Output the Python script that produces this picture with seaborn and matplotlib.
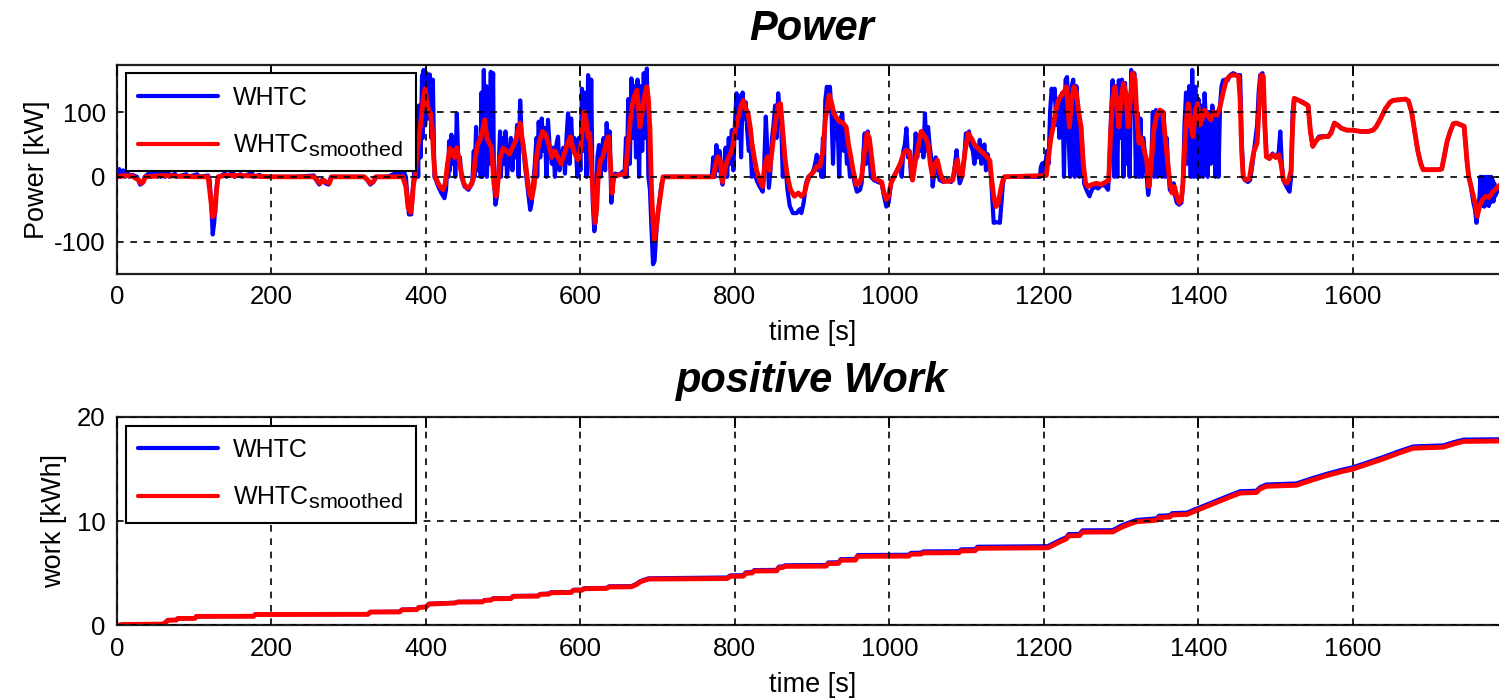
import matplotlib
matplotlib.use("Agg")
import matplotlib.pyplot as plt
import matplotlib._mathtext as _mathtext
import pandas as pd
import seaborn as sns

# ---------------------------------------------------------------------------
# WHTC engine power, raw 1 Hz trace  (time [s], power [kW])
# ---------------------------------------------------------------------------
whtc_power = [
    (0, 0), (3, 12), (5, 0), (8, 10), (10, 0), (14, 8), (16, 0), (20, 3), (26, 0),
    (30, -12), (33, -10), (36, 0), (42, 6), (44, 0), (50, 10), (52, 0), (55, 12),
    (57, 0), (60, 9), (62, 0), (66, 10), (68, 0), (75, 5), (77, 0), (90, 4), (92, 0),
    (104, 4), (106, 0), (118, 2), (120, -5), (122, -40), (124, -89), (126, -70),
    (128, -30), (130, -5), (132, 0), (140, 5), (142, 0), (150, 8), (152, 0), (160, 4),
    (162, 0), (175, 6), (177, 0), (185, 3), (187, 0), (230, 0), (255, 2), (258, -5),
    (262, -12), (266, -4), (270, -10), (274, -12), (277, 0), (320, 0), (324, -5),
    (328, -12), (332, -8), (336, 0), (350, 0), (360, 5), (362, 0), (366, 8), (368, 0),
    (372, 6), (374, 0), (376, -30), (378, -58), (381, -58), (383, -20), (385, 10),
    (387, 0), (389, 60), (390, 0), (391, 110), (393, 30), (395, 157), (396, 60),
    (397, 165), (399, 80), (401, 160), (403, 90), (405, 158), (407, 60), (409, 150),
    (411, 0), (413, -5), (416, -15), (420, -25), (424, -33), (426, -20), (428, 20),
    (429, 0), (430, 55), (431, 10), (433, 65), (435, 20), (437, 60), (438, 0),
    (440, 98), (442, 20), (444, 30), (446, 0), (450, -15), (455, -20), (460, -10),
    (462, 40), (463, 0), (465, 77), (467, 10), (469, 60), (471, 0), (472, 130),
    (473, 0), (475, 165), (476, 40), (478, 140), (479, 0), (481, 90), (482, 20),
    (484, 162), (485, 30), (487, 160), (488, 0), (490, -43), (492, -30), (494, 10),
    (496, 70), (497, 0), (499, 60), (501, 20), (503, 70), (505, 0), (508, 40),
    (510, 60), (512, 10), (514, 55), (516, 30), (518, 80), (520, 0), (522, 118),
    (524, 60), (526, 50), (528, 20), (530, 0), (533, -30), (535, -51), (537, -40),
    (539, -10), (541, 20), (543, 60), (544, 0), (546, 85), (548, 30), (550, 90),
    (552, 40), (554, 75), (556, 0), (558, 88), (560, 50), (563, 20), (565, 45),
    (567, 0), (569, 50), (571, 62), (573, 10), (575, 30), (578, 45), (580, 5),
    (582, 60), (584, 98), (586, 20), (588, 90), (590, 40), (592, 60), (594, 50),
    (596, 0), (598, 60), (600, 10), (602, 136), (604, 40), (606, 130), (608, 0),
    (610, 157), (612, 20), (614, 150), (616, -40), (618, -84), (620, -60), (622, 30),
    (624, 49), (626, 0), (628, 45), (630, 60), (632, 10), (634, 83), (636, 40),
    (638, 70), (640, -40), (642, -10), (645, 5), (650, 3), (655, 8), (657, 0),
    (659, 60), (660, 0), (662, 120), (664, 20), (666, 152), (668, 60), (670, 140),
    (672, 30), (674, 150), (676, 0), (678, 140), (680, 40), (682, 160), (684, 60),
    (686, 167), (688, 0), (690, -20), (692, -80), (694, -135), (696, -130),
    (698, -90), (700, -60), (702, -40), (705, -10), (708, 0), (770, 0), (772, 30),
    (774, 0), (776, 49), (778, 10), (780, 40), (782, 0), (784, -12), (786, 20),
    (788, 45), (790, 0), (792, 60), (794, 20), (796, 72), (798, 10), (800, 80),
    (802, 129), (804, 60), (806, 125), (808, 30), (810, 130), (812, 90), (814, 115),
    (816, 70), (818, 40), (820, 60), (822, 0), (825, 10), (828, -5), (832, -15),
    (836, -23), (838, 20), (840, 93), (842, 40), (844, -17), (846, 10), (848, 60),
    (850, 80), (852, 110), (854, 60), (856, 129), (858, 100), (860, 80), (862, 0),
    (864, 40), (866, 10), (868, -20), (871, -45), (875, -56), (880, -56), (884, -50),
    (886, -56), (889, -40), (892, -10), (895, 0), (900, 5), (903, 15), (906, 34),
    (908, 10), (910, 30), (912, 0), (914, 60), (915, 0), (917, 118), (919, 139),
    (921, 130), (923, 139), (925, 100), (927, 20), (929, 100), (931, 60), (933, 80),
    (935, 0), (937, 90), (939, 98), (941, 40), (943, 70), (945, 20), (947, 30),
    (949, 0), (952, 10), (955, -10), (958, -23), (962, -20), (964, -10), (966, 30),
    (968, 67), (970, 20), (972, 70), (974, 40), (976, 0), (980, -5), (985, -8),
    (990, -10), (993, -30), (996, -46), (999, -40), (1002, -10), (1005, 0),
    (1010, 10), (1014, 20), (1016, 0), (1018, 40), (1020, 50), (1022, 75),
    (1024, 30), (1026, 40), (1028, 0), (1030, -5), (1032, 20), (1034, 67),
    (1036, 30), (1038, 60), (1040, 40), (1042, 70), (1044, 30), (1046, 98),
    (1048, 40), (1050, 77), (1052, 50), (1054, 30), (1056, -15), (1058, 5),
    (1060, 30), (1062, 10), (1065, -5), (1070, -8), (1075, -5), (1080, -8),
    (1083, 0), (1085, 20), (1087, 41), (1089, 10), (1091, -10), (1094, 0),
    (1097, 30), (1099, 67), (1101, 60), (1103, 70), (1105, 50), (1108, 40),
    (1110, 20), (1113, 45), (1115, 30), (1117, 57), (1119, 20), (1121, 40),
    (1123, 50), (1125, 10), (1127, 35), (1129, 20), (1131, 10), (1133, -30),
    (1135, -71), (1139, -70), (1143, -71), (1145, -40), (1147, -10), (1149, 0),
    (1195, 0), (1196, 15), (1198, 21), (1200, 5), (1202, 20), (1204, 40),
    (1206, 20), (1208, 100), (1210, 136), (1212, 120), (1214, 136), (1216, 80),
    (1218, 120), (1220, 60), (1222, 125), (1224, 130), (1226, 0), (1228, 150),
    (1230, 154), (1232, 60), (1234, 0), (1236, 140), (1238, 150), (1240, 0),
    (1242, 140), (1244, 100), (1246, 0), (1248, 80), (1250, 40), (1252, -10),
    (1255, -20), (1259, -30), (1262, -20), (1266, -15), (1270, -18), (1275, -12),
    (1280, -15), (1283, -20), (1285, 20), (1287, 100), (1289, 149), (1291, 0),
    (1293, 140), (1295, 0), (1297, 149), (1299, 60), (1301, 150), (1303, 0),
    (1305, 145), (1307, 20), (1309, 100), (1311, 0), (1313, 165), (1315, 130),
    (1317, 160), (1319, 0), (1321, 100), (1323, 0), (1325, 90), (1327, 0),
    (1329, 60), (1331, 30), (1333, 0), (1335, -28), (1337, -10), (1339, 20),
    (1341, 100), (1343, 0), (1345, 103), (1347, 0), (1349, 100), (1351, 80),
    (1353, 0), (1355, 100), (1357, 0), (1359, 60), (1361, 10), (1363, -20),
    (1366, -25), (1368, -10), (1370, -30), (1372, -40), (1375, -43), (1378, -40),
    (1380, -10), (1382, 80), (1384, 130), (1386, 20), (1388, 140), (1390, 0),
    (1392, 165), (1394, 0), (1396, 139), (1398, 0), (1400, 120), (1402, 0),
    (1404, 110), (1406, 0), (1408, 129), (1410, 80), (1412, 0), (1414, 100),
    (1416, 20), (1418, 110), (1420, 80), (1422, 0), (1424, 100), (1426, 0),
    (1428, 110), (1430, 140), (1432, 149), (1435, 150), (1438, 149), (1441, 157),
    (1445, 160), (1450, 157), (1454, 157), (1456, 60), (1458, 0), (1460, -5),
    (1464, -8), (1467, -5), (1470, 20), (1473, 50), (1476, 80), (1478, 130),
    (1480, 157), (1483, 160), (1486, 80), (1488, 31), (1492, 30), (1496, 36),
    (1500, 30), (1504, 38), (1506, 70), (1508, 20), (1510, -5), (1514, -15),
    (1518, -23), (1520, 0), (1522, 100), (1524, 121), (1530, 118), (1536, 115),
    (1542, 110), (1545, 70), (1548, 47), (1552, 55), (1556, 62), (1562, 63),
    (1568, 62), (1572, 70), (1576, 83), (1580, 80), (1585, 75), (1592, 72),
    (1600, 72), (1610, 70), (1620, 70), (1626, 72), (1630, 77), (1636, 90),
    (1642, 105), (1648, 115), (1652, 118), (1660, 119), (1668, 120), (1672, 117),
    (1676, 100), (1680, 70), (1684, 40), (1688, 20), (1691, 11), (1700, 11),
    (1710, 11), (1715, 12), (1718, 30), (1722, 55), (1726, 70), (1730, 82),
    (1734, 83), (1740, 80), (1744, 78), (1746, 50), (1748, 20), (1750, 0),
    (1752, -10), (1754, -25), (1756, -40), (1758, -50), (1760, -71), (1762, -50),
    (1764, -30), (1765, 0), (1766, -40), (1767, 0), (1768, -45), (1769, -5),
    (1770, -46), (1771, 0), (1772, -44), (1773, -5), (1774, -40), (1775, 0),
    (1776, -45), (1777, -10), (1778, -40), (1779, 0), (1780, -35), (1781, -5),
    (1782, -38), (1783, -10), (1784, -30), (1786, -25), (1788, -20), (1790, -15),
    (1795, -10), (1800, 0),
]

# ---------------------------------------------------------------------------
# smoothed WHTC power  (time [s], power [kW])
# ---------------------------------------------------------------------------
smoothed_power = [
    (0, 0), (10, 2), (20, 1), (28, -5), (31, -10), (34, -8), (37, 0), (60, 2),
    (100, 0), (118, 0), (121, -30), (124, -62), (127, -55), (129, -20), (131, 0),
    (140, 2), (160, 2), (200, 0), (255, 0), (259, -5), (263, -10), (267, -5),
    (271, -8), (275, -10), (278, 0), (320, 0), (324, -4), (328, -10), (332, -7),
    (335, 0), (370, 0), (374, -15), (377, -48), (380, -55), (382, -40), (384, -10),
    (386, 0), (388, 30), (391, 62), (394, 90), (397, 125), (399, 136), (401, 118),
    (404, 100), (406, 98), (408, 77), (410, 30), (412, 0), (414, -5), (418, -15),
    (422, -20), (425, -10), (428, 20), (431, 44), (434, 40), (437, 30), (440, 45),
    (443, 26), (446, 5), (449, -10), (453, -17), (457, -15), (461, -5), (464, 30),
    (467, 50), (470, 57), (473, 70), (476, 88), (479, 60), (482, 52), (485, 45),
    (488, -10), (491, -30), (493, -10), (496, 30), (500, 44), (504, 40), (508, 35),
    (512, 45), (516, 55), (519, 70), (522, 83), (525, 55), (528, 30), (531, 0),
    (534, -25), (537, -33), (540, -15), (543, 30), (547, 55), (551, 70), (555, 65),
    (559, 50), (563, 30), (567, 40), (571, 30), (575, 20), (579, 35), (583, 50),
    (587, 62), (590, 45), (593, 35), (597, 26), (600, 40), (603, 80), (605, 100),
    (607, 90), (610, 60), (612, 67), (614, 20), (617, -40), (619, -71), (621, -50),
    (623, 0), (626, 26), (629, 30), (633, 50), (636, 62), (639, 20), (641, -25),
    (643, 0), (650, 3), (658, 5), (661, 40), (664, 80), (667, 110), (670, 125),
    (673, 134), (675, 110), (677, 77), (680, 100), (683, 125), (686, 139),
    (688, 120), (690, 72), (692, -20), (694, -70), (696, -97), (698, -80),
    (701, -50), (704, -25), (707, 0), (772, 0), (775, 20), (778, 31), (781, 25),
    (784, -8), (787, 10), (790, 25), (794, 35), (797, 45), (800, 70), (804, 90),
    (808, 110), (811, 118), (814, 105), (817, 98), (820, 75), (822, 52), (825, 30),
    (828, 10), (832, -5), (836, -15), (839, 20), (842, 31), (845, 10), (848, 40),
    (852, 80), (856, 110), (859, 113), (862, 70), (865, 26), (868, 0), (872, -20),
    (877, -30), (882, -25), (886, -30), (890, -25), (893, -10), (896, 0), (902, 8),
    (906, 16), (910, 16), (914, 40), (917, 88), (920, 110), (922, 126), (925, 115),
    (928, 98), (932, 90), (936, 85), (940, 83), (944, 77), (947, 50), (950, 31),
    (953, 10), (957, -12), (961, -10), (964, 0), (968, 40), (971, 67), (974, 60),
    (977, 30), (980, -2), (985, -5), (990, -8), (993, -25), (996, -35), (999, -30),
    (1002, -10), (1006, 0), (1010, 10), (1014, 20), (1018, 35), (1022, 41),
    (1026, 38), (1030, -5), (1033, 20), (1037, 45), (1041, 70), (1044, 65),
    (1047, 60), (1050, 50), (1053, 20), (1056, 0), (1059, 20), (1062, 26),
    (1066, 5), (1070, -7), (1076, -7), (1082, -5), (1085, 15), (1088, 26),
    (1091, 5), (1094, 0), (1098, 40), (1102, 67), (1106, 60), (1110, 50),
    (1114, 45), (1118, 40), (1122, 36), (1126, 31), (1130, 25), (1132, 0),
    (1135, -30), (1138, -46), (1141, -40), (1144, -20), (1147, -5), (1149, 0),
    (1203, 2), (1206, 30), (1209, 60), (1212, 77), (1215, 100), (1218, 115),
    (1221, 123), (1224, 128), (1227, 133), (1229, 139), (1231, 110), (1233, 77),
    (1236, 120), (1239, 139), (1242, 130), (1245, 100), (1248, 77), (1251, 20),
    (1254, -10), (1257, -15), (1262, -12), (1268, -10), (1274, -12), (1280, -8),
    (1284, -5), (1286, 60), (1289, 120), (1292, 139), (1295, 110), (1297, 77),
    (1300, 120), (1303, 144), (1306, 130), (1309, 77), (1312, 120), (1315, 160),
    (1318, 150), (1320, 100), (1323, 52), (1326, 60), (1330, 40), (1333, 26),
    (1336, -15), (1339, 20), (1342, 70), (1346, 95), (1350, 103), (1354, 100),
    (1357, 60), (1360, 26), (1363, -10), (1366, -25), (1369, -15), (1372, -30),
    (1375, -40), (1378, -35), (1380, -10), (1382, 40), (1384, 83), (1387, 113),
    (1390, 80), (1393, 62), (1396, 100), (1399, 113), (1402, 80), (1405, 90),
    (1408, 103), (1412, 95), (1416, 88), (1420, 100), (1424, 95), (1428, 108),
    (1432, 130), (1436, 149), (1440, 155), (1444, 157), (1448, 157), (1452, 155),
    (1454, 120), (1456, 40), (1458, 0), (1462, -5), (1466, -3), (1469, 20),
    (1472, 40), (1476, 52), (1479, 120), (1481, 157), (1484, 155), (1486, 80),
    (1488, 31), (1492, 28), (1496, 34), (1500, 30), (1504, 34), (1507, 20),
    (1510, -5), (1514, -10), (1517, -5), (1520, 10), (1522, 80), (1524, 121),
    (1530, 118), (1536, 114), (1542, 110), (1545, 70), (1548, 47), (1552, 55),
    (1556, 60), (1562, 62), (1568, 62), (1572, 68), (1576, 83), (1580, 80),
    (1585, 75), (1592, 72), (1600, 72), (1610, 70), (1620, 70), (1626, 72),
    (1630, 77), (1636, 90), (1642, 105), (1648, 115), (1652, 118), (1660, 119),
    (1668, 120), (1672, 117), (1676, 100), (1680, 70), (1684, 40), (1688, 20),
    (1691, 11), (1700, 11), (1710, 11), (1715, 12), (1718, 30), (1722, 55),
    (1726, 70), (1730, 82), (1734, 83), (1740, 80), (1744, 78), (1746, 50),
    (1748, 20), (1750, 0), (1754, -20), (1758, -40), (1761, -61), (1764, -45),
    (1768, -35), (1772, -30), (1776, -32), (1780, -25), (1784, -20), (1788, -15),
    (1795, -8), (1800, 0),
]

# ---------------------------------------------------------------------------
# cumulative positive work  (time [s], work [kWh])
# ---------------------------------------------------------------------------
whtc_work = [
    (0, 0.0), (8, 0.1), (60, 0.14), (64, 0.36), (66, 0.51), (77, 0.53), (79, 0.68),
    (101, 0.7), (103, 0.88), (177, 0.9), (179, 1.07), (325, 1.09), (328, 1.3),
    (366, 1.32), (369, 1.52), (388, 1.55), (391, 1.76), (400, 1.8), (404, 2.08),
    (438, 2.18), (441, 2.27), (473, 2.29), (476, 2.44), (484, 2.46), (487, 2.6),
    (510, 2.62), (513, 2.83), (545, 2.85), (548, 3.02), (559, 3.05), (562, 3.19),
    (588, 3.21), (591, 3.42), (602, 3.43), (605, 3.58), (634, 3.6), (637, 3.75),
    (666, 3.77), (672, 3.97), (678, 4.27), (688, 4.52), (790, 4.6), (794, 4.8),
    (811, 4.82), (814, 5.09), (822, 5.12), (825, 5.31), (854, 5.33), (857, 5.64),
    (862, 5.66), (865, 5.77), (918, 5.8), (921, 6.04), (934, 6.06), (937, 6.36),
    (956, 6.38), (959, 6.75), (1025, 6.78), (1028, 6.96), (1041, 6.98),
    (1044, 7.1), (1090, 7.12), (1093, 7.3), (1111, 7.32), (1114, 7.55),
    (1205, 7.6), (1212, 7.86), (1220, 8.16), (1229, 8.46), (1232, 8.76),
    (1246, 8.78), (1250, 9.12), (1289, 9.14), (1300, 9.57), (1310, 9.87),
    (1320, 10.12), (1346, 10.27), (1349, 10.52), (1363, 10.57), (1366, 10.77),
    (1385, 10.82), (1400, 11.27), (1420, 11.87), (1440, 12.47), (1454, 12.87),
    (1475, 12.92), (1480, 13.27), (1488, 13.52), (1527, 13.62), (1545, 14.07),
    (1565, 14.52), (1585, 14.92), (1600, 15.17), (1620, 15.67), (1640, 16.17),
    (1660, 16.72), (1678, 17.17), (1717, 17.27), (1730, 17.57), (1743, 17.82),
    (1800, 17.87),
]

smoothed_work = [
    (0, 0.0), (8, 0.1), (60, 0.13), (64, 0.35), (66, 0.5), (77, 0.52), (79, 0.67),
    (101, 0.68), (103, 0.87), (177, 0.88), (179, 1.05), (325, 1.07), (328, 1.28),
    (366, 1.3), (369, 1.5), (388, 1.52), (391, 1.73), (400, 1.76), (404, 2.05),
    (438, 2.15), (441, 2.24), (473, 2.26), (476, 2.4), (484, 2.42), (487, 2.56),
    (510, 2.58), (513, 2.79), (545, 2.81), (548, 2.98), (559, 3.0), (562, 3.14),
    (588, 3.16), (591, 3.37), (602, 3.38), (605, 3.53), (634, 3.55), (637, 3.69),
    (666, 3.71), (672, 3.9), (678, 4.2), (688, 4.45), (790, 4.5), (794, 4.71),
    (811, 4.73), (814, 5.0), (822, 5.03), (825, 5.22), (854, 5.24), (857, 5.54),
    (862, 5.56), (865, 5.67), (918, 5.69), (921, 5.93), (934, 5.95), (937, 6.25),
    (956, 6.27), (959, 6.63), (1025, 6.65), (1028, 6.83), (1041, 6.85),
    (1044, 6.96), (1090, 6.98), (1093, 7.15), (1111, 7.17), (1114, 7.4),
    (1205, 7.45), (1212, 7.7), (1220, 8.0), (1229, 8.3), (1232, 8.6), (1246, 8.62),
    (1250, 8.95), (1289, 8.97), (1300, 9.4), (1310, 9.7), (1320, 9.95),
    (1346, 10.1), (1349, 10.35), (1363, 10.4), (1366, 10.6), (1385, 10.65),
    (1400, 11.1), (1420, 11.7), (1440, 12.3), (1454, 12.7), (1475, 12.75),
    (1480, 13.1), (1488, 13.35), (1527, 13.45), (1545, 13.9), (1565, 14.35),
    (1585, 14.75), (1600, 15.0), (1620, 15.5), (1640, 16.0), (1660, 16.55),
    (1678, 17.0), (1717, 17.1), (1730, 17.4), (1743, 17.65), (1800, 17.7),
]

series_labels = ["WHTC", r"WHTC$_{\mathrm{smoothed}}$"]
time_ticks = list(range(0, 1601, 200))
power_ticks = [-100, 0, 100]
work_ticks = [0, 10, 20]

BLUE = "#0000ff"
RED = "#ff0000"


def frame(pairs, name):
    return pd.DataFrame(pairs, columns=["time", name])


sns.set_theme(style="white")
plt.rcParams["font.family"] = ["Liberation Sans", "DejaVu Sans"]
plt.rcParams["mathtext.fontset"] = "custom"
plt.rcParams["mathtext.rm"] = "Liberation Sans"
plt.rcParams["mathtext.it"] = "Liberation Sans:italic"
plt.rcParams["mathtext.bf"] = "Liberation Sans:bold"
plt.rcParams["axes.unicode_minus"] = False
plt.rcParams["text.color"] = "black"
plt.rcParams["axes.labelcolor"] = "black"
# larger subscripts for the legend label
_mathtext.SHRINK_FACTOR = 0.86

fig = plt.figure(figsize=(14.99, 6.99), dpi=100)
ax_p = fig.add_axes([0.078, 0.608, 0.9276, 0.2994])
ax_w = fig.add_axes([0.078, 0.1052, 0.9276, 0.2983])

# power traces
sns.lineplot(data=frame(whtc_power, "power"), x="time", y="power", ax=ax_p,
             color=BLUE, linewidth=3.0, estimator=None, sort=False)
sns.lineplot(data=frame(smoothed_power, "power"), x="time", y="power", ax=ax_p,
             color=RED, linewidth=3.5, estimator=None, sort=False)

# cumulative positive work
sns.lineplot(data=frame(whtc_work, "work"), x="time", y="work", ax=ax_w,
             color=BLUE, linewidth=3.0, estimator=None, sort=False)
sns.lineplot(data=frame(smoothed_work, "work"), x="time", y="work", ax=ax_w,
             color=RED, linewidth=3.5, estimator=None, sort=False)

panels = [
    (ax_p, "Power", "Power [kW]", (-150, 173), power_ticks, -0.048),
    (ax_w, "positive Work", "work [kWh]", (0, 20), work_ticks, -0.036),
]
for ax, title, ylabel, ylim, yticks, ylab_x in panels:
    ax.set_xlim(0, 1800)
    ax.set_ylim(*ylim)
    ax.set_xticks(time_ticks)
    ax.set_yticks(yticks)
    ax.set_xlabel("time [s]", fontsize=19.5, labelpad=8, color="black")
    ax.set_ylabel(ylabel, fontsize=19.5, color="black")
    ax.yaxis.set_label_coords(ylab_x, 0.5)
    ax.set_title(title, fontsize=30, fontweight="bold", fontstyle="italic",
                 pad=18, color="black")
    ax.grid(True, color="black", linestyle=(0, (4, 4)), linewidth=1.2)
    ax.tick_params(direction="in", length=8, width=1.3, top=True, right=True,
                   labelsize=18.5, colors="black", pad=8)
    for sp in ax.spines.values():
        sp.set_color("#202020")
        sp.set_linewidth(1.6)
    ax.set_axisbelow(False)
    handles = ax.get_lines()[:2]
    leg = ax.legend(handles, series_labels, loc="upper left", fontsize=18,
                    frameon=True, fancybox=False, edgecolor="black",
                    framealpha=1.0, borderaxespad=0.35, handlelength=3.2,
                    handletextpad=0.6, labelspacing=0.9, borderpad=0.5)
    leg.get_frame().set_linewidth(1.5)
    for ln in leg.get_lines():
        ln.set_linewidth(3.0)
    for txt in leg.get_texts():
        txt.set_color("black")

fig.savefig("out.png", dpi=100)
